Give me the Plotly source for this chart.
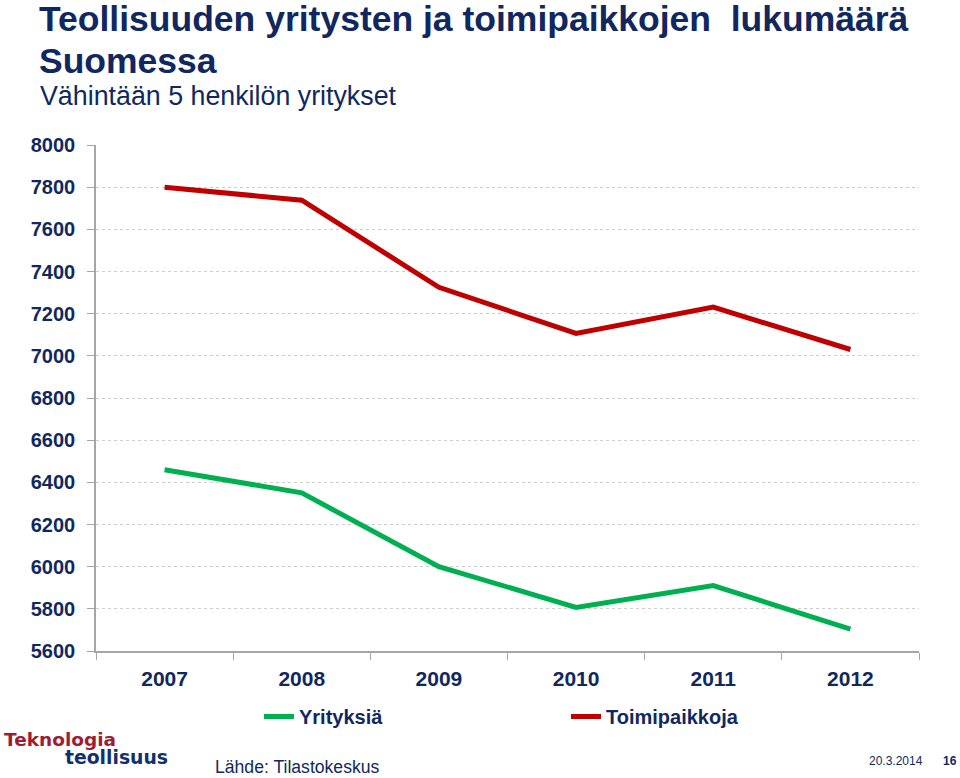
import plotly.graph_objects as go

years = ["2007", "2008", "2009", "2010", "2011", "2012"]
yritykset = [6460, 6350, 6000, 5807, 5910, 5704]
toimipaikat = [7800, 7738, 7325, 7106, 7231, 7030]
series_names = ["Yrityksiä", "Toimipaikkoja"]
y_ticks = [5600, 5800, 6000, 6200, 6400, 6600, 6800, 7000, 7200, 7400, 7600, 7800, 8000]

NAVY = "#10285f"
SANS = "Liberation Sans, Arial, sans-serif"
DEJA = "DejaVu Sans, Liberation Sans, sans-serif"
W, H = 960, 778
ML, MR, MT, MB = 96, 41, 145, 127
PW, PH = W - ML - MR, H - MT - MB

fig = go.Figure()
fig.add_trace(go.Scatter(x=years, y=yritykset, name=series_names[0], mode="lines",
                         line=dict(color="#00b050", width=5)))
fig.add_trace(go.Scatter(x=years, y=toimipaikat, name=series_names[1], mode="lines",
                         line=dict(color="#c00000", width=5)))

fig.update_layout(
    width=W, height=H,
    margin=dict(l=ML, r=MR, t=MT, b=MB, autoexpand=False),
    paper_bgcolor="white", plot_bgcolor="white",
    showlegend=True,
    legend=dict(orientation="h", x=(259 - ML) / PW, y=-(697 - (H - MB)) / PH,
                xanchor="left", yanchor="top",
                entrywidth=262, entrywidthmode="pixels", itemwidth=30,
                font=dict(family=SANS, size=20, color=NAVY, weight="bold"),
                bgcolor="rgba(0,0,0,0)"),
    xaxis=dict(type="category", tickson="boundaries", showgrid=False,
               showline=True, linecolor="#a6a6a6", linewidth=1.5,
               ticks="outside", ticklen=7, tickcolor="#a6a6a6",
               ticklabelstandoff=8,
               tickfont=dict(family=SANS, size=21, color=NAVY, weight="bold"),
               range=[-0.5, 5.5]),
    yaxis=dict(range=[5600, 8000], tickvals=y_ticks, showgrid=True,
               gridcolor="#cccccc", griddash="dot", gridwidth=1,
               showline=True, linecolor="#a6a6a6", linewidth=1.5,
               ticks="outside", ticklen=7, tickcolor="#a6a6a6",
               ticklabelstandoff=8, zeroline=False,
               tickfont=dict(family=SANS, size=20, color=NAVY, weight="bold")),
)

annos = [
    dict(text="<b>Teollisuuden yritysten ja toimipaikkojen  lukumäärä</b>",
         x=37, y=-3, size=35.5, family=SANS, color=NAVY),
    dict(text="<b>Suomessa</b>", x=37, y=39, size=35.5, family=SANS, color=NAVY),
    dict(text="Vähintään 5 henkilön yritykset", x=38, y=79, size=26.8, family=SANS, color=NAVY),
    dict(text="<b>Teknologia</b>", x=2, y=727, size=18.5, family=DEJA, color="#9e1c34"),
    dict(text="<b>teollisuus</b>", x=63, y=745, size=18.8, family=DEJA, color="#123070"),
    dict(text="Lähde: Tilastokeskus", x=213, y=755, size=17.6, family=SANS, color=NAVY),
    dict(text="20.3.2014", x=867, y=752, size=12, family=SANS, color=NAVY),
    dict(text="<b>16</b>", x=941, y=752, size=12, family=SANS, color=NAVY),
]
for a in annos:
    fig.add_annotation(text=a["text"], xref="paper", yref="paper",
                       x=(a["x"] - ML) / PW, y=(H - MB - a["y"]) / PH,
                       xanchor="left", yanchor="top", showarrow=False, align="left",
                       font=dict(family=a["family"], size=a["size"], color=a["color"]))

fig.write_html("out.html", config={"displayModeBar": False},
               post_script="document.body.style.margin='0';document.body.style.overflow='hidden';")
